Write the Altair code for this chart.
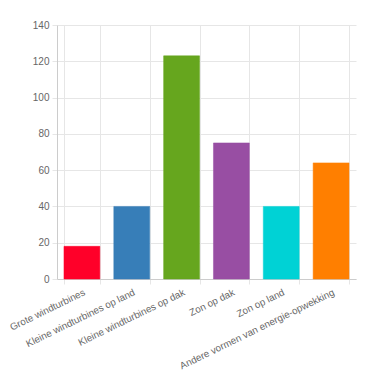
import altair as alt
import pandas as pd

categories = ["Grote windturbines", "Kleine windturbines op land", "Kleine windturbines op dak",
              "Zon op dak", "Zon op land", "Andere vormen van energie-opwekking"]
values = [18, 40, 123, 75, 40, 64]
colors = ["#FF0029", "#377EB8", "#66A61E", "#984EA3", "#00D2D5", "#FF7F00"]
y_ticks = [0, 20, 40, 60, 80, 100, 120, 140]

df = pd.DataFrame({"cat": categories, "val": values})

chart = alt.Chart(df).mark_bar(strokeWidth=1, strokeOpacity=0.5).encode(
    x=alt.X("cat:N", sort=categories, title=None,
            scale=alt.Scale(paddingInner=0.28, paddingOuter=0.14),
            axis=alt.Axis(labelAngle=334, labelAlign="right", labelBaseline="top",
                          tickBand="extent", labelPadding=3, tickSize=5,
                          labelLimit=300, labelFontSize=9.8)),
    y=alt.Y("val:Q", title=None, scale=alt.Scale(domain=[0, 140]),
            axis=alt.Axis(values=y_ticks, tickSize=5, labelPadding=3)),
    color=alt.Color("cat:N", sort=categories, scale=alt.Scale(domain=categories, range=colors), legend=None),
    stroke=alt.Color("cat:N", sort=categories, scale=alt.Scale(domain=categories, range=colors), legend=None),
).properties(
    width=299, height=254,
    autosize=alt.AutoSizeParams(type="none"),
    padding={"left": 49, "top": 17, "right": 10, "bottom": 100},
).configure_view(stroke=None).configure_axis(
    labelFont="Liberation Sans", labelFontSize=10, labelColor="#666666",
    gridColor="#e6e6e6", tickColor="#e6e6e6", domainColor="#cccccc",
    grid=True,
)

chart.save("out.html", embed_options={"renderer": "svg", "actions": False})
